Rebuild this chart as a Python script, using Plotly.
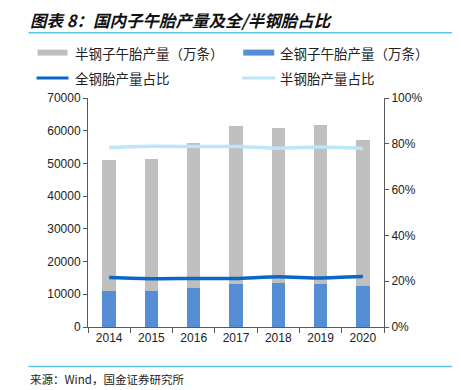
import plotly.graph_objects as go

years = ["2014", "2015", "2016", "2017", "2018", "2019", "2020"]
all_steel = [11060, 10880, 11980, 13010, 13320, 13200, 12590]      # 全钢子午胎产量（万条）
semi_steel = [40040, 40620, 44400, 48340, 47540, 48450, 44700]     # 半钢子午胎产量（万条）
all_share = [0.216, 0.211, 0.212, 0.212, 0.219, 0.214, 0.220]      # 全钢胎产量占比
semi_share = [0.784, 0.789, 0.788, 0.788, 0.781, 0.786, 0.780]     # 半钢胎产量占比

title_text = "图表 8：国内子午胎产量及全/半钢胎占比"
legend_names = ["半钢子午胎产量（万条）", "全钢子午胎产量（万条）", "全钢胎产量占比", "半钢胎产量占比"]
source_text = "来源：Wind，国金证券研究所"

OFF = 8  # page body margin
W, H = 461 - OFF, 390 - OFF
L, R, T, B = 87.5 - OFF, 384.0 - OFF, 97.5 - OFF, 327.0 - OFF

def px(x):
    return (x - OFF - L) / (R - L)

def py(y):
    return (B - (y - OFF)) / (B - T)

C_GRAY = "#BFBFBF"
C_BLUE = "#558ED5"
C_DARK = "#0A66C8"
C_LIGHT = "#BDE5F8"
C_RULE = "#5BC3EE"
CJK = "Noto Sans CJK SC"
NUM = "Liberation Sans"

fig = go.Figure()
fig.add_trace(go.Bar(x=years, y=all_steel, name=legend_names[1], marker_color=C_BLUE,
                     marker_line_width=0, width=0.32))
fig.add_trace(go.Bar(x=years, y=semi_steel, name=legend_names[0], marker_color=C_GRAY,
                     marker_line_width=0, width=0.32))
fig.add_trace(go.Scatter(x=years, y=all_share, name=legend_names[2], yaxis="y2", mode="lines",
                         line=dict(color=C_DARK, width=3.5, shape="spline", smoothing=0.6)))
fig.add_trace(go.Scatter(x=years, y=semi_share, name=legend_names[3], yaxis="y2", mode="lines",
                         line=dict(color=C_LIGHT, width=3.5, shape="spline", smoothing=0.6)))

axis_common = dict(showgrid=False, zeroline=False, showline=True, linecolor="#595959", linewidth=1,
                   ticks="outside", tickcolor="#595959", tickfont=dict(family=NUM, size=12, color="#222"))

fig.update_layout(
    width=W, height=H,
    margin=dict(l=L, r=W - R, t=T, b=H - B, pad=0),
    paper_bgcolor="white", plot_bgcolor="white",
    barmode="stack", bargap=0.68,
    showlegend=False,
    xaxis=dict(**axis_common, type="category", tickson="boundaries", ticklen=5),
    yaxis=dict(**axis_common, range=[0, 70000], dtick=10000, ticklen=4, tickformat="d"),
    yaxis2=dict(**axis_common, overlaying="y", side="right", range=[0, 1], dtick=0.2,
                tickformat=".0%", ticklen=4),
)

shapes = []
for yy in (6, 32, 366.5):
    shapes.append(dict(type="line", xref="paper", yref="paper", x0=px(28), x1=px(452),
                       y0=py(yy), y1=py(yy), line=dict(color=C_RULE, width=1.5)))
shapes.append(dict(type="rect", xref="paper", yref="paper", x0=px(37), x1=px(67),
                   y0=py(55), y1=py(49), fillcolor=C_GRAY, line_width=0))
shapes.append(dict(type="rect", xref="paper", yref="paper", x0=px(243), x1=px(274),
                   y0=py(55), y1=py(49), fillcolor=C_BLUE, line_width=0))
shapes.append(dict(type="line", xref="paper", yref="paper", x0=px(36), x1=px(68),
                   y0=py(77.5), y1=py(77.5), line=dict(color=C_DARK, width=3)))
shapes.append(dict(type="line", xref="paper", yref="paper", x0=px(242), x1=px(275),
                   y0=py(77.5), y1=py(77.5), line=dict(color=C_LIGHT, width=3)))
fig.update_layout(shapes=shapes)

ann = []
ann.append(dict(text="<b><i>" + title_text + "</i></b>", x=px(27), y=py(19), xref="paper", yref="paper",
                xanchor="left", yanchor="middle", showarrow=False,
                font=dict(family=CJK, size=16.5, color="#111")))
leg_pos = [(72, 52), (278, 52), (72, 77.5), (278, 77.5)]
for name, (lx, ly) in zip(legend_names, leg_pos):
    ann.append(dict(text=name, x=px(lx), y=py(ly), xref="paper", yref="paper",
                    xanchor="left", yanchor="middle", showarrow=False,
                    font=dict(family=CJK, size=13.5, color="#222")))
ann.append(dict(text=source_text, x=px(27), y=py(379), xref="paper", yref="paper",
                xanchor="left", yanchor="middle", showarrow=False,
                font=dict(family=CJK, size=11.5, color="#222")))
fig.update_layout(annotations=ann)

fig.write_html("out.html")
